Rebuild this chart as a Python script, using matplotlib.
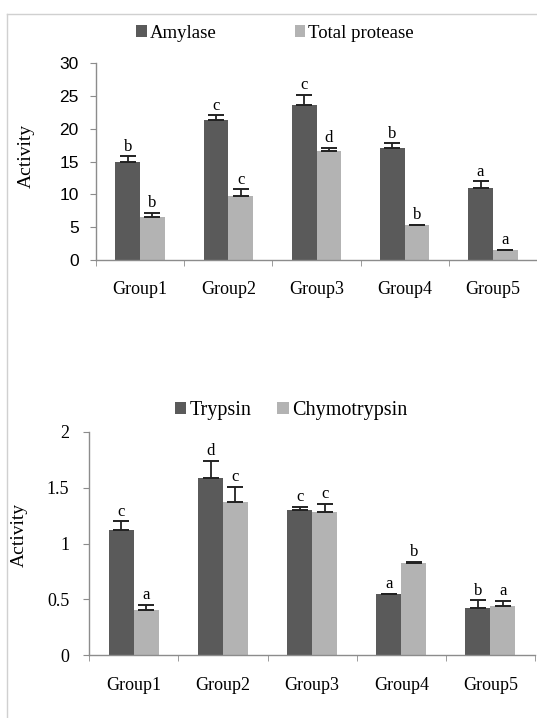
import matplotlib
matplotlib.use("Agg")
import matplotlib.pyplot as plt
import numpy as np
from matplotlib.lines import Line2D

groups = ["Group1", "Group2", "Group3", "Group4", "Group5"]

# top panel
amylase = [15.0, 21.4, 23.7, 17.1, 11.0]
amylase_err = [0.8, 0.7, 1.5, 0.7, 1.0]
amylase_sig = ["b", "c", "c", "b", "a"]
protease = [6.6, 9.8, 16.6, 5.3, 1.5]
protease_err = [0.6, 1.0, 0.5, 0.05, 0.05]
protease_sig = ["b", "c", "d", "b", "a"]

# bottom panel
trypsin = [1.12, 1.59, 1.30, 0.545, 0.42]
trypsin_err = [0.08, 0.15, 0.03, 0.005, 0.07]
trypsin_sig = ["c", "d", "c", "a", "b"]
chymo = [0.40, 1.37, 1.28, 0.825, 0.435]
chymo_err = [0.05, 0.14, 0.075, 0.01, 0.05]
chymo_sig = ["a", "c", "c", "b", "a"]

DARK = "#5a5a5a"
LIGHT = "#b3b3b3"
AXC = "#8c8c8c"
SERIF = "Liberation Serif"

fig = plt.figure(figsize=(5.37, 7.18), dpi=100)

# light frame around the figure (left and top only)
fig.add_artist(Line2D([7.5 / 537, 7.5 / 537], [0, 1 - 13.7 / 718],
                      transform=fig.transFigure, color="#d0d0d0", lw=1))
fig.add_artist(Line2D([7.5 / 537, 1], [1 - 13.7 / 718, 1 - 13.7 / 718],
                      transform=fig.transFigure, color="#d0d0d0", lw=1))


def panel(ax, s1, e1, g1, s2, e2, g2, ymax, ystep, tickfont, tickpad, names, leg_xy, leg_fs, colsp, ylab_xy):
    x = np.arange(len(groups))
    w = 0.28
    ax.bar(x - w / 2, s1, w, color=DARK, label=names[0], zorder=2)
    ax.bar(x + w / 2, s2, w, color=LIGHT, label=names[1], zorder=2)
    for xs, vals, errs, sig in [(x - w / 2, s1, e1, g1), (x + w / 2, s2, e2, g2)]:
        ax.errorbar(xs, vals, yerr=[np.zeros(len(vals)), errs], fmt="none",
                    ecolor="#222222", elinewidth=1.3, capsize=5.5, capthick=1.4, zorder=3)
        for xi, v, e, s in zip(xs, vals, errs, sig):
            ax.annotate(s, (xi, v + e), xytext=(0, 4), textcoords="offset points",
                        ha="center", va="baseline", fontsize=12, family=SERIF)

    ax.set_xlim(-0.5, len(groups) - 0.5)
    ax.set_ylim(0, ymax)
    ax.set_yticks(np.arange(0, ymax + ystep / 2, ystep))
    ax.set_yticklabels([f"{t:g}" for t in np.arange(0, ymax + ystep / 2, ystep)],
                       fontfamily=tickfont, fontsize=12.5)
    ax.set_xticks(x)
    ax.set_xticklabels(groups, fontfamily=SERIF, fontsize=13)
    ax.set_xticks(np.arange(-0.5, len(groups)), minor=True)
    ax.tick_params(axis="x", which="major", length=0, pad=tickpad)
    ax.tick_params(axis="x", which="minor", length=4, color=AXC, direction="out")
    ax.tick_params(axis="y", length=4.5, color=AXC, direction="out", pad=8)
    for sp in ["top", "right"]:
        ax.spines[sp].set_visible(False)
    for sp in ["left", "bottom"]:
        ax.spines[sp].set_color(AXC)
        ax.spines[sp].set_linewidth(1)
    ax.set_ylabel("Activity", family=SERIF, fontsize=14)
    ax.yaxis.set_label_coords(*ylab_xy)
    ax.legend(loc="center", bbox_to_anchor=leg_xy, bbox_transform=fig.transFigure,
              ncol=2, frameon=False, prop={"family": SERIF, "size": leg_fs},
              handlelength=0.56, handleheight=0.56, handletextpad=0.15,
              columnspacing=colsp, borderpad=0)


ax1 = fig.add_axes([96 / 537, 1 - 260 / 718, 441 / 537, (260 - 63.3) / 718])
panel(ax1, amylase, amylase_err, amylase_sig, protease, protease_err, protease_sig,
      30, 5, "Liberation Sans", 15, ["Amylase", "Total protease"],
      (275 / 537, 1 - 33.3 / 718), 13.5, 4.2, (-0.138, 0.53))

ax2 = fig.add_axes([89.3 / 537, 1 - 655 / 718, 445.7 / 537, (655 - 432) / 718])
panel(ax2, trypsin, trypsin_err, trypsin_sig, chymo, chymo_err, chymo_sig,
      2, 0.5, SERIF, 16, ["Trypsin", "Chymotrypsin"],
      (291 / 537, 1 - 410.7 / 718), 14.5, 1.3, (-0.137, 0.54))
ax2.tick_params(axis="y", labelsize=13, pad=10)

fig.savefig("out.png", dpi=100)
